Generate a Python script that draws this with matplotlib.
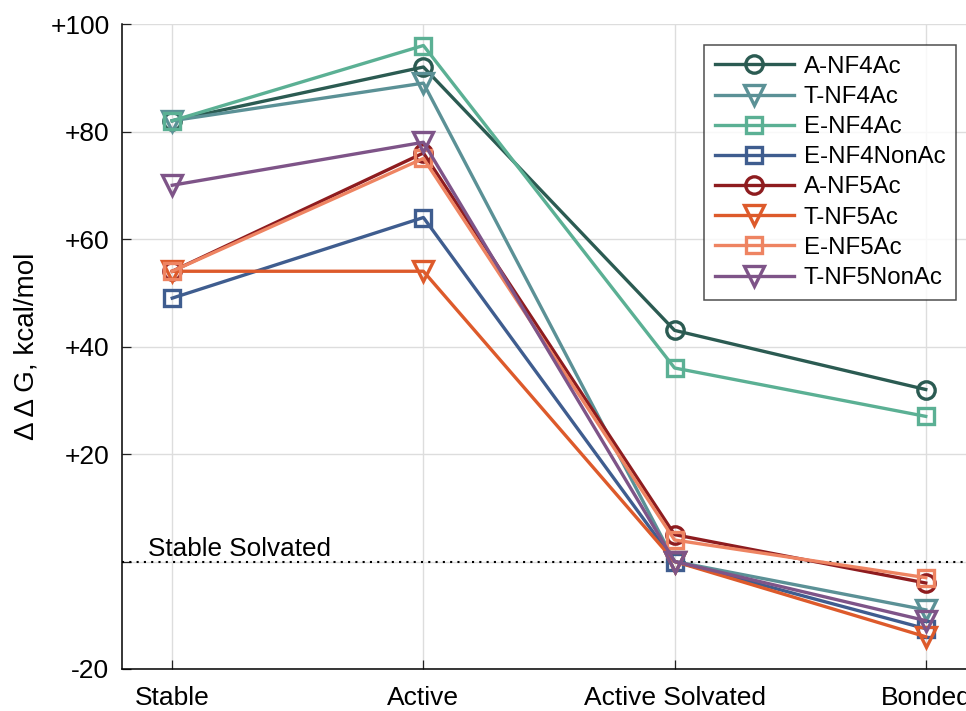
import matplotlib
matplotlib.use("Agg")
import matplotlib.pyplot as plt

plt.rcParams['font.family'] = ['Liberation Sans', 'DejaVu Sans']

categories = ["Stable", "Active", "Active Solvated", "Bonded"]
series_names = ["A-NF4Ac", "T-NF4Ac", "E-NF4Ac", "E-NF4NonAc",
                "A-NF5Ac", "T-NF5Ac", "E-NF5Ac", "T-NF5NonAc"]
a_nf4ac = [82, 92, 43, 32]
t_nf4ac = [82, 89, 0, -9]
e_nf4ac = [82, 96, 36, 27]
e_nf4nonac = [49, 64, 0, -12.5]
a_nf5ac = [54, 76, 5, -4]
t_nf5ac = [54, 54, 0, -14]
e_nf5ac = [54, 75, 4, -3]
t_nf5nonac = [70, 78, 0, -11]
values = [a_nf4ac, t_nf4ac, e_nf4ac, e_nf4nonac, a_nf5ac, t_nf5ac, e_nf5ac, t_nf5nonac]
colors = ["#2b5b52", "#5b9196", "#5bb094", "#3f5d8f",
          "#8e1c1f", "#dd5a2b", "#ee8462", "#7e5488"]
markers = ["o", "v", "s", "s", "o", "v", "s", "v"]
yticks = [-20, 20, 40, 60, 80, 100]
ytick_labels = ["-20", "+20", "+40", "+60", "+80", "+100"]

fig = plt.figure(figsize=(9.66, 7.11), dpi=100)
ax = fig.add_axes([122/966, 1-669/711, (976-122)/966, (669-24)/711])

msize = {"o": 12.5, "v": 15, "s": 11.5}
x = list(range(len(categories)))
for name, vals, c, m in zip(series_names, values, colors, markers):
    ax.plot(x, vals, color=c, lw=2.4, marker=m, markersize=msize[m],
            markerfacecolor='none', markeredgecolor=c, markeredgewidth=2.4,
            label=name, zorder=3)

ax.axhline(0, color='black', ls=(0, (1, 2.5)), lw=1.5, zorder=2)
ax.text(-0.097, 1.1, "Stable Solvated", fontsize=18.8, ha='left', va='baseline')

ax.set_xlim(-0.2, 3.2)
ax.set_ylim(-20, 100)
ax.set_xticks(x)
ax.set_xticklabels(categories, fontsize=19)
ax.set_yticks(yticks + [0])
ax.set_yticklabels(ytick_labels + [""], fontsize=19)
ax.tick_params(direction='in', length=6.5, width=0.9, color='#222222')
ax.tick_params(axis='y', pad=9)
ax.tick_params(axis='x', pad=12)
ax.grid(True, color='#dddddd', lw=1.0, zorder=0)
ax.set_axisbelow(True)
for s in ['top', 'right']:
    ax.spines[s].set_visible(False)
ax.spines['left'].set_linewidth(1.1)
ax.spines['bottom'].set_linewidth(1.1)
ax.set_ylabel("Δ Δ G, kcal/mol", fontsize=20, labelpad=8)

leg = ax.legend(loc='upper left', bbox_to_anchor=((704-122)/854, 1-(45-24)/645),
                fontsize=17.3, frameon=True, fancybox=False, edgecolor='#222222',
                handlelength=3.3, labelspacing=0.34, borderpad=0.45,
                handletextpad=0.4, borderaxespad=0)
leg.get_frame().set_linewidth(1.1)

fig.savefig("out.png", dpi=100)
